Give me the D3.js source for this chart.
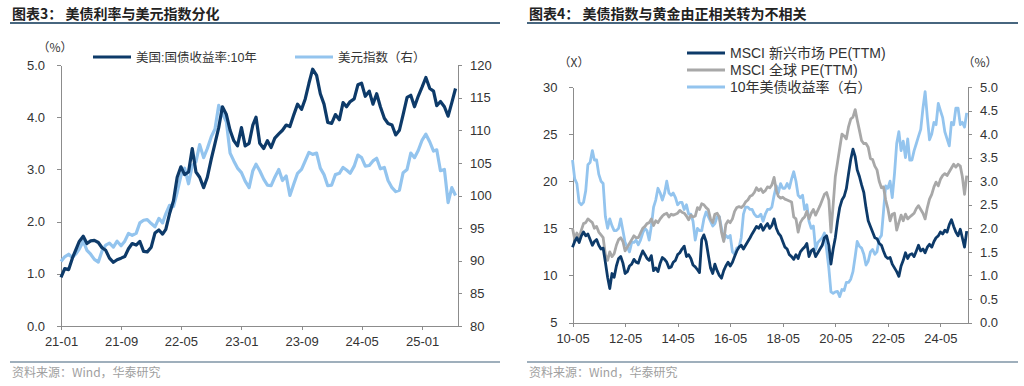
<!DOCTYPE html>
<html>
<head>
<meta charset="utf-8">
<script src="https://cdn.jsdelivr.net/npm/d3@7"></script>
<style>
  body { margin: 0; background: #fff; }
  svg { display: block; font-family: "Liberation Sans", Arial, "Noto Sans CJK SC", sans-serif; }
  .axis path, .axis line { stroke: #8c8c8c; shape-rendering: crispEdges; }
  .axis text { fill: #333; font-size: 13px; font-family: "Liberation Sans", Arial, sans-serif; }
</style>
</head>
<body>
<svg id="chart" width="1024" height="386"></svg>
<script>
// ---- 图表3: semi-monthly points (1st and 16th), from 2021-01 ----
const usYieldSemi = [
  0.93,1.10,1.08,1.30,1.45,1.62,1.72,1.58,1.63,1.64,1.60,1.50,1.45,1.30,1.22,1.27,1.30,1.33,1.48,1.58,1.55,1.62,1.43,1.42,
  1.51,1.78,1.84,1.76,1.85,2.15,2.40,2.85,3.05,2.90,2.95,3.40,2.95,2.85,2.65,2.85,3.20,3.50,3.80,4.20,4.05,3.75,3.55,3.45,
  3.80,3.45,3.50,3.85,4.00,3.50,3.40,3.55,3.42,3.60,3.68,3.75,3.85,3.82,4.05,4.25,4.15,4.35,4.65,4.92,4.80,4.45,4.25,3.90,
  3.88,4.05,3.95,4.28,4.20,4.30,4.35,4.62,4.65,4.40,4.50,4.25,4.45,4.20,3.98,3.88,3.85,3.66,3.75,4.05,4.38,4.42,4.20,4.40,
  4.58,4.76,4.55,4.50,4.22,4.30,4.20,4.02,4.28,4.55
];
const dxySemi = [
  89.9,90.6,91.0,90.5,91.0,91.8,93.0,91.6,91.0,90.2,89.8,91.5,92.4,92.7,92.1,93.0,92.3,93.0,94.2,93.9,94.2,95.8,96.2,96.3,
  95.7,95.2,96.5,95.8,97.2,98.5,98.3,100.5,103.0,104.2,101.8,104.6,105.2,107.8,105.8,107.2,109.0,110.2,113.8,112.6,111.3,106.5,105.3,104.2,
  103.5,102.2,101.2,103.8,104.8,103.8,102.5,101.6,101.5,102.8,104.0,102.3,103.0,100.0,101.8,103.4,104.0,105.3,106.6,106.3,106.5,104.2,103.2,101.5,
  101.6,103.2,103.4,104.3,103.9,103.4,104.5,106.2,105.8,104.5,104.6,105.3,105.7,104.1,104.3,102.3,101.2,100.6,100.8,103.5,104.0,106.5,105.8,106.9,
  108.5,109.4,108.2,106.8,107.0,103.8,104.0,98.9,101.2,100.0
];
const leftTicks = ["21-01","21-09","22-05","23-01","23-09","24-05","25-01"];
const leftLegend = ["美国:国债收益率:10年", "美元指数（右）"];

// ---- 图表4: monthly points, from 2010-05 ----
const peEM = [
  13.0,13.6,14.0,13.5,14.2,14.6,14.2,14.4,
  13.8,13.2,13.6,13.8,13.2,12.8,12.9,11.4,9.8,8.6,10.2,9.8,
  11.0,11.8,12.0,11.3,10.2,10.4,11.0,11.2,11.7,11.4,11.3,12.0,
  12.6,12.2,11.8,11.6,12.1,10.5,10.8,10.4,11.3,11.9,11.7,11.4,
  10.8,10.9,11.4,11.6,12.2,12.4,12.8,13.1,12.0,12.2,11.8,11.1,
  10.9,10.6,10.3,13.8,14.3,13.6,12.2,10.8,10.2,11.2,10.5,10.0,
  9.7,10.5,11.0,11.4,11.0,11.4,12.0,12.6,13.0,13.2,12.8,13.2,
  13.6,14.0,14.4,14.8,15.2,15.0,15.4,14.8,15.2,15.5,15.0,15.3,
  16.0,15.0,14.5,14.2,13.6,13.0,12.8,12.2,12.0,11.7,12.2,11.8,
  12.5,12.8,13.0,13.4,12.0,12.6,12.8,12.0,12.4,12.8,13.2,14.0,
  14.2,13.2,11.2,12.8,14.0,15.8,17.2,18.0,18.4,19.2,20.8,22.3,
  23.4,22.6,21.2,20.5,19.6,18.8,17.2,15.8,15.2,14.6,14.0,13.9,
  13.4,13.2,12.6,12.0,11.8,11.9,11.2,10.8,10.4,9.9,11.0,11.6,
  12.4,11.8,12.2,12.3,12.0,12.6,13.2,12.6,12.8,12.4,13.0,13.3,
  13.0,13.6,14.0,14.2,14.6,14.4,14.8,14.6,15.4,15.9,15.2,14.6,
  14.2,14.9,14.0,13.0,14.7
];
const peACWI = [
  15.0,13.8,14.5,14.0,14.8,15.5,15.6,16.0,
  15.8,15.6,15.0,15.2,14.6,14.3,14.0,12.2,11.6,12.5,12.0,12.3,
  13.2,13.8,14.0,13.6,12.6,13.0,13.4,13.8,14.2,14.0,14.0,14.5,
  15.0,15.2,15.5,15.6,16.0,15.3,15.8,15.6,16.0,16.3,16.5,16.6,
  16.2,16.5,16.4,16.5,16.6,16.9,16.7,16.6,16.3,15.9,16.4,16.2,
  16.3,17.2,17.0,17.6,17.5,17.2,17.0,16.0,15.6,16.5,16.6,16.2,
  14.6,13.6,15.4,15.8,15.6,16.0,16.8,17.2,17.3,17.2,17.4,17.8,
  18.0,18.4,18.5,18.8,19.3,19.0,19.2,18.8,19.0,19.4,19.3,19.6,
  20.4,19.0,18.4,18.2,18.3,18.1,18.0,17.9,17.8,16.2,16.0,14.6,
  15.6,16.0,16.2,16.8,16.0,16.6,17.0,16.4,16.9,17.4,18.0,18.6,
  18.8,18.0,14.6,17.5,20.5,22.0,23.5,25.0,24.8,24.5,25.8,26.6,
  26.8,27.6,26.5,25.4,24.3,24.0,24.0,23.6,22.4,22.3,21.6,21.2,
  20.0,19.3,19.4,18.0,17.1,15.8,16.5,16.6,14.8,15.6,16.4,15.8,
  16.5,16.0,16.2,16.4,16.6,17.1,17.4,17.0,16.6,16.0,17.2,18.1,
  18.6,19.4,19.9,19.5,20.2,20.6,20.8,20.6,21.0,21.4,21.8,21.5,
  21.8,21.6,20.5,18.6,20.6
];
const usYieldMonthly = [
  3.45,3.05,2.95,2.55,2.50,2.55,2.80,3.35,
  3.40,3.65,3.45,3.45,3.15,3.00,2.95,2.25,2.00,2.20,2.05,1.95,
  1.95,2.00,2.20,1.95,1.70,1.60,1.50,1.70,1.70,1.75,1.65,1.75,
  1.90,2.00,1.95,1.75,2.05,2.45,2.60,2.85,2.75,2.60,2.75,3.00,
  2.75,2.70,2.75,2.65,2.50,2.55,2.55,2.40,2.50,2.30,2.30,2.15,
  1.75,2.00,1.95,1.95,2.20,2.35,2.25,2.15,2.05,2.10,2.25,2.25,
  2.00,1.75,1.85,1.80,1.85,1.50,1.45,1.58,1.60,1.80,2.30,2.45,
  2.45,2.40,2.40,2.30,2.25,2.25,2.30,2.15,2.30,2.40,2.40,2.45,
  2.70,2.90,2.75,2.95,2.85,2.85,2.95,2.85,3.05,3.20,3.00,2.70,
  2.65,2.70,2.40,2.50,2.15,2.00,2.05,1.55,1.70,1.75,1.80,1.90,
  1.55,1.15,0.65,0.62,0.65,0.66,0.55,0.70,0.68,0.85,0.85,0.92,
  1.08,1.40,1.72,1.62,1.58,1.45,1.22,1.30,1.50,1.55,1.45,1.50,
  1.78,1.85,2.35,2.90,2.85,3.00,2.65,3.15,3.80,4.05,3.65,3.85,
  3.50,3.90,3.45,3.45,3.65,3.80,3.95,4.10,4.55,4.90,4.35,3.88,
  4.00,4.25,4.20,4.65,4.50,4.35,4.05,3.90,3.75,4.25,4.20,4.55,
  4.55,4.20,4.25,4.15,4.45
];
const rightTicks = ["10-05","12-05","14-05","16-05","18-05","20-05","22-05","24-05"];
const rightLegend = ["MSCI 新兴市场 PE(TTM)", "MSCI 全球 PE(TTM)", "10年美债收益率（右）"];

const NAVY = "#0d3a69", LIGHT = "#93c4ee", GREY = "#a8a8a8";

const svg = d3.select("#chart");
const parseYM = d3.timeParse("%y-%m");
const fmtYM = d3.timeFormat("%y-%m");

const semiDate = i => new Date(2021, Math.floor(i / 2), i % 2 ? 16 : 1);
const monthDate = i => new Date(2010, 4 + i, 1);

function frame(x0, x1, title) {
  svg.append("text")
    .attr("x", x0 + 2).attr("y", 18.5)
    .attr("font-family", "'Noto Sans CJK SC', sans-serif")
    .attr("font-weight", 700).attr("font-size", 14).attr("fill", "#222")
    .text(title);
  svg.append("line").attr("x1", x0).attr("x2", x1).attr("y1", 23).attr("y2", 23)
    .attr("stroke", "#47667f").attr("stroke-width", 2);
  svg.append("line").attr("x1", x0).attr("x2", x1).attr("y1", 362).attr("y2", 362)
    .attr("stroke", "#7f95a6").attr("stroke-width", 1.5);
  svg.append("text")
    .attr("x", x0 + 2).attr("y", 377)
    .attr("font-family", "'Noto Sans CJK SC', sans-serif")
    .attr("font-size", 12).attr("fill", "#a0a0a0")
    .text("资料来源：Wind，华泰研究");
}

function unitLabel(x, y, t) {
  svg.append("text").attr("x", x).attr("y", y).attr("text-anchor", "middle")
    .attr("font-family", "'Noto Sans CJK SC', sans-serif")
    .attr("font-size", 12).attr("fill", "#333").text(t);
}

function legendItem(x, y, color, label, fs) {
  svg.append("line").attr("x1", x).attr("x2", x + 38).attr("y1", y).attr("y2", y)
    .attr("stroke", color).attr("stroke-width", 3);
  svg.append("text").attr("x", x + 43).attr("y", y + 4.5)
    .attr("font-size", fs).attr("fill", "#333").text(label);
}

// ================= 图表3 =================
frame(10, 500, "图表3：  美债利率与美元指数分化");

const x1 = d3.scaleTime().domain([new Date(2021, 0, 1), new Date(2025, 4, 26)]).range([61, 458]);
const y1L = d3.scaleLinear().domain([0, 5]).range([326, 65]);
const y1R = d3.scaleLinear().domain([80, 120]).range([326, 65]);

svg.append("g").attr("class", "axis").attr("transform", "translate(0,326)")
  .call(d3.axisBottom(x1).tickValues(leftTicks.map(parseYM)).tickFormat(fmtYM)
    .tickSizeInner(4).tickSizeOuter(0).tickPadding(7));
svg.append("g").attr("class", "axis").attr("transform", "translate(61,0)")
  .call(d3.axisLeft(y1L).tickValues(d3.range(0, 5.01, 1)).tickFormat(d3.format(".1f"))
    .tickSizeInner(4).tickSizeOuter(0).tickPadding(12));
svg.append("g").attr("class", "axis").attr("transform", "translate(458,0)")
  .call(d3.axisRight(y1R).tickValues(d3.range(80, 121, 5))
    .tickSizeInner(4).tickSizeOuter(0).tickPadding(8));

const lineDxy = d3.line().x((d, i) => x1(semiDate(i))).y(d => y1R(d));
const lineUs = d3.line().x((d, i) => x1(semiDate(i))).y(d => y1L(d));
svg.append("path").datum(dxySemi).attr("d", lineDxy)
  .attr("fill", "none").attr("stroke", LIGHT).attr("stroke-width", 3.2).attr("stroke-linejoin", "round");
svg.append("path").datum(usYieldSemi).attr("d", lineUs)
  .attr("fill", "none").attr("stroke", NAVY).attr("stroke-width", 3.2).attr("stroke-linejoin", "round");

unitLabel(55, 52, "（%）");
legendItem(93, 57, NAVY, leftLegend[0], 12.5);
legendItem(295, 57, LIGHT, leftLegend[1], 12.5);

// ================= 图表4 =================
frame(527, 1018, "图表4：  美债指数与黄金由正相关转为不相关");

const x2 = d3.scaleTime().domain([new Date(2010, 4, 1), new Date(2025, 4, 19)]).range([572.5, 968]);
const y2L = d3.scaleLinear().domain([5, 30]).range([322.5, 87]);
const y2R = d3.scaleLinear().domain([0, 5]).range([322.5, 87]);

svg.append("g").attr("class", "axis").attr("transform", "translate(0,322.5)")
  .call(d3.axisBottom(x2).tickValues(rightTicks.map(parseYM)).tickFormat(fmtYM)
    .tickSizeInner(4).tickSizeOuter(0).tickPadding(7));
svg.append("g").attr("class", "axis").attr("transform", "translate(572.5,0)")
  .call(d3.axisLeft(y2L).tickValues(d3.range(5, 31, 5))
    .tickSizeInner(4).tickSizeOuter(0).tickPadding(11));
svg.append("g").attr("class", "axis").attr("transform", "translate(968,0)")
  .call(d3.axisRight(y2R).tickValues(d3.range(0, 5.01, 0.5)).tickFormat(d3.format(".1f"))
    .tickSizeInner(4).tickSizeOuter(0).tickPadding(8));

const lineM = yScale => d3.line().x((d, i) => x2(monthDate(i))).y(d => yScale(d));
svg.append("path").datum(usYieldMonthly).attr("d", lineM(y2R))
  .attr("fill", "none").attr("stroke", LIGHT).attr("stroke-width", 2.8).attr("stroke-linejoin", "round");
svg.append("path").datum(peACWI).attr("d", lineM(y2L))
  .attr("fill", "none").attr("stroke", GREY).attr("stroke-width", 2.8).attr("stroke-linejoin", "round");
svg.append("path").datum(peEM).attr("d", lineM(y2L))
  .attr("fill", "none").attr("stroke", NAVY).attr("stroke-width", 2.8).attr("stroke-linejoin", "round");

unitLabel(574, 67, "（X）");
unitLabel(980, 67, "（%）");
[NAVY, GREY, LIGHT].forEach((c, i) => legendItem(687, 53 + i * 17, c, rightLegend[i], 14));
</script>
</body>
</html>
